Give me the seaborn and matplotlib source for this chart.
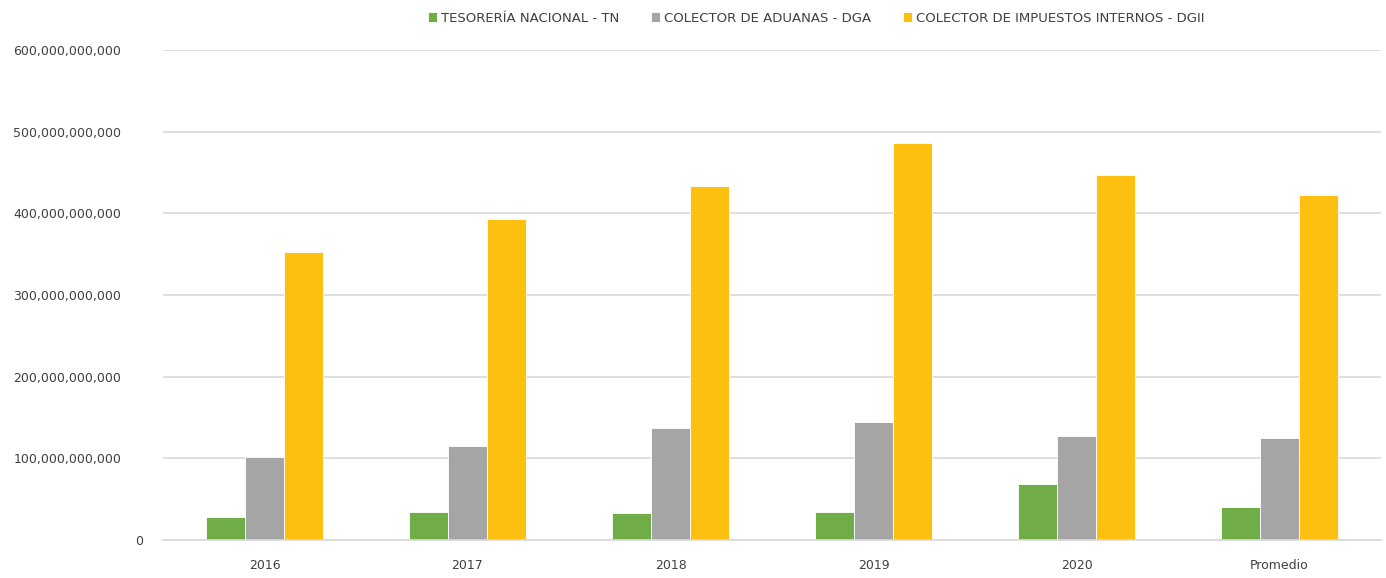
import pandas as pd
import matplotlib.pyplot as plt
from matplotlib.ticker import FuncFormatter
from matplotlib.transforms import ScaledTranslation
import seaborn as sns

# Values
categories = ['2016', '2017', '2018', '2019', '2020', 'Promedio']
series_names = ['TESORERÍA NACIONAL - TN', 'COLECTOR DE ADUANAS - DGA',
                'COLECTOR DE IMPUESTOS INTERNOS - DGII']
tn_values = [28.5e9, 34.7e9, 33.4e9, 33.9e9, 68.2e9, 40.0e9]
dga_values = [102.0e9, 115.0e9, 136.7e9, 144.0e9, 127.0e9, 125.3e9]
dgii_values = [353.0e9, 393.0e9, 433.8e9, 485.7e9, 447.0e9, 422.4e9]

c_green = '#70AD47'
c_gray = '#A5A5A5'
c_gold = '#FDC010'
c_grid = '#D9D9D9'
c_text = '#404040'

rows = []
for name, vals in zip(series_names, [tn_values, dga_values, dgii_values]):
    for cat, v in zip(categories, vals):
        rows.append({'Año': cat, 'Serie': name, 'Monto': v})
df = pd.DataFrame(rows)

sns.set_style('white')
plt.rcParams['font.family'] = ['DejaVu Sans']

fig = plt.figure(figsize=(13.86, 5.78), dpi=100)
ax = fig.add_axes([163 / 1386, 1 - 540 / 578, (1381 - 163) / 1386, 490 / 578])

sns.barplot(data=df, x='Año', y='Monto', hue='Serie', order=categories,
            hue_order=series_names, palette=[c_green, c_gray, c_gold],
            width=0.576, gap=0, edgecolor='white', linewidth=0.6,
            saturation=1, ax=ax, legend=True)

ax.set_ylim(0, 600e9)
ax.set_yticks(range(0, 600_000_000_001, 100_000_000_000))
ax.yaxis.set_major_formatter(FuncFormatter(lambda v, p: f'{int(v):,}'))
ax.yaxis.grid(True, color=c_grid, linewidth=1.2)
ax.set_axisbelow(True)
for s in ['top', 'right', 'left']:
    ax.spines[s].set_visible(False)
ax.spines['bottom'].set_color(c_grid)
ax.spines['bottom'].set_linewidth(1.2)
ax.tick_params(axis='both', length=0, labelsize=9, colors=c_text)
ax.tick_params(axis='y', pad=30)
ax.tick_params(axis='x', pad=14)
ax.set_xlabel('')
ax.set_ylabel('')

# the zero label sits further right in the original
fig.canvas.draw()
zero_lbl = ax.get_yticklabels()[0]
zero_lbl.set_transform(zero_lbl.get_transform() + ScaledTranslation(0.22, 0, fig.dpi_scale_trans))

handles, labels = ax.get_legend_handles_labels()
ax.legend(handles, labels, loc='center', bbox_to_anchor=(816 / 1386, 1 - 18 / 578),
          bbox_transform=fig.transFigure, ncol=3, frameon=False,
          fontsize=9.5, handlelength=0.7, handleheight=0.7, handletextpad=0.3,
          columnspacing=2.4, labelcolor=c_text)

fig.savefig('out.png', dpi=100)
